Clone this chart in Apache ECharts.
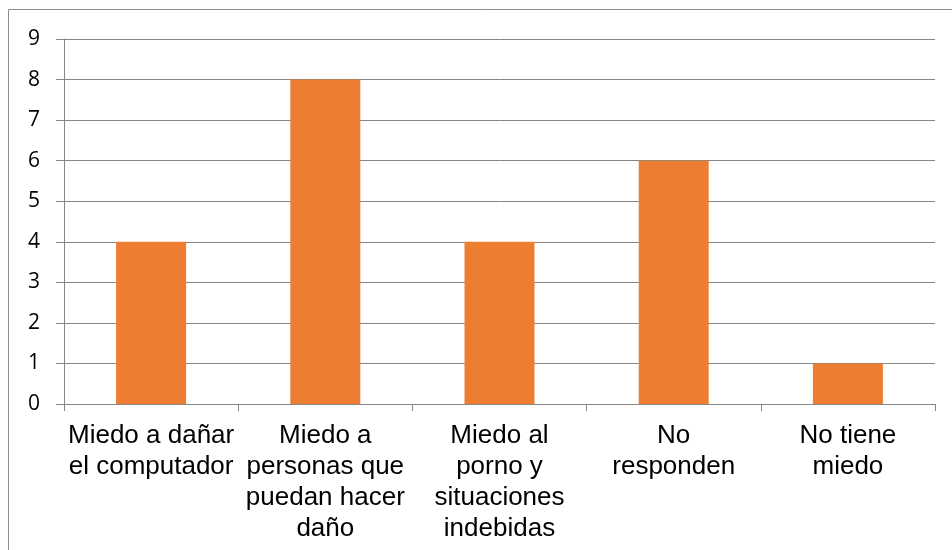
<!DOCTYPE html>
<html>
<head>
    <meta charset="utf-8">
    <title>ECharts</title>
    <script src="https://cdn.jsdelivr.net/npm/echarts@6/dist/echarts.min.js"></script>
    <style>
        html, body { margin: 0; padding: 0; background: #fff; }
    </style>
</head>
<body>
    <div id="main" style="width: 952px;height:550px;"></div>
    <script type="text/javascript">
        // categorias y valores
        var categorias = [
            'Miedo a dañar\nel computador',
            'Miedo a\npersonas que\npuedan hacer\ndaño',
            'Miedo al\nporno y\nsituaciones\nindebidas',
            'No\nresponden',
            'No tiene\nmiedo'
        ];
        var valores = [4, 8, 4, 6, 1];

        var myChart = echarts.init(document.getElementById('main'));

        var option = {
            animation: false,
            backgroundColor: '#fff',
            grid: {
                left: 64,
                right: 17,
                top: 39,
                bottom: 146
            },
            // marco del grafico
            graphic: [
                {
                    type: 'polyline',
                    shape: { points: [[8.5, 550], [8.5, 9.5], [952, 9.5]] },
                    style: { stroke: '#8c8c8c', lineWidth: 1, fill: null }
                }
            ],
            xAxis: {
                type: 'category',
                data: categorias,
                axisLine: { lineStyle: { color: '#868686', width: 1 } },
                axisTick: { show: true, length: 7, lineStyle: { color: '#868686' } },
                axisLabel: {
                    color: '#000',
                    fontFamily: 'Liberation Sans, Arial, sans-serif',
                    fontSize: 26,
                    lineHeight: 31,
                    margin: 16,
                    interval: 0
                }
            },
            yAxis: {
                type: 'value',
                min: 0,
                max: 9,
                interval: 1,
                axisLine: { show: true, lineStyle: { color: '#868686', width: 1 } },
                axisTick: { show: true, length: 8, lineStyle: { color: '#868686' } },
                splitLine: { lineStyle: { color: '#868686', width: 1 } },
                axisLabel: {
                    color: '#000',
                    fontFamily: 'Open Sans, sans-serif',
                    fontSize: 21,
                    margin: 24
                }
            },
            series: [
                {
                    type: 'bar',
                    data: valores,
                    barWidth: 70,
                    itemStyle: { color: '#ED7D31' }
                }
            ]
        };

        myChart.setOption(option);
    </script>
</body>
</html>
